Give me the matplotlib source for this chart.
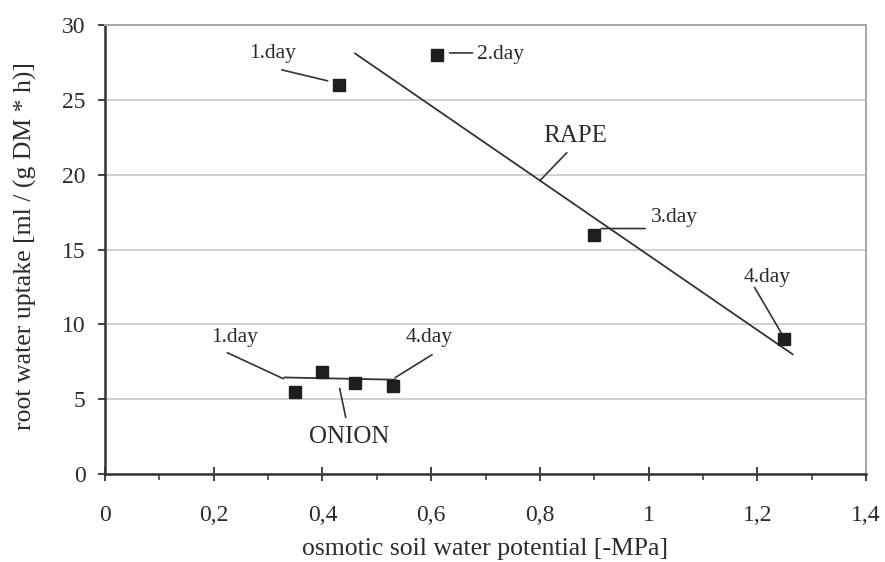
import matplotlib
matplotlib.use('Agg')
import matplotlib.pyplot as plt
from matplotlib.ticker import FixedLocator, MultipleLocator
from matplotlib.text import OffsetFrom

# values
rape_x = [0.43, 0.61, 0.90, 1.25]
rape_y = [26.0, 28.0, 16.0, 9.0]
onion_x = [0.35, 0.40, 0.46, 0.53]
onion_y = [5.5, 6.8, 6.1, 5.9]

rape_trend_x = [0.46, 1.265]
rape_trend_y = [28.1, 8.0]
onion_trend_x = [0.33, 0.535]
onion_trend_y = [6.45, 6.3]

x_ticks = [0, 0.2, 0.4, 0.6, 0.8, 1.0, 1.2, 1.4]
x_ticklabels = ['0', '0,2', '0,4', '0,6', '0,8', '1', '1,2', '1,4']
y_ticks = [0, 5, 10, 15, 20, 25, 30]

ink = '#2b2b2b'
font = 'Liberation Serif'

fig = plt.figure(figsize=(8.85, 5.62), dpi=100)
ax = fig.add_axes([105 / 885, 88 / 562, 761 / 885, 449 / 562])

ax.set_xlim(0, 1.4)
ax.set_ylim(0, 30)

# grid + frame (excel style)
ax.yaxis.grid(True, color='#c4c4c4', lw=1.1)
ax.set_axisbelow(True)
for s in ['top', 'right']:
    ax.spines[s].set_color('#a8a8a8')
    ax.spines[s].set_linewidth(1.4)
for s in ['left', 'bottom']:
    ax.spines[s].set_color('#333333')
    ax.spines[s].set_linewidth(1.8)

ax.xaxis.set_major_locator(FixedLocator(x_ticks))
ax.set_xticklabels(x_ticklabels)
ax.xaxis.set_minor_locator(MultipleLocator(0.1))
ax.set_yticks(y_ticks)

ax.tick_params(axis='x', which='major', direction='inout', length=10, width=1.3,
               color='#333333', pad=17, labelsize=17, labelcolor=ink)
ax.tick_params(axis='x', which='minor', direction='out', length=4.5, width=1.1,
               color='#333333')
ax.tick_params(axis='y', which='major', direction='out', length=5, width=1.3,
               color='#333333', pad=9, labelsize=17, labelcolor=ink)
for lab in ax.get_xticklabels() + ax.get_yticklabels():
    lab.set_family(font)

ax.set_xlabel('osmotic soil water potential [-MPa]', family=font, fontsize=18.5, color=ink, va='top')
ax.set_ylabel('root water uptake [ml / (g DM * h)]', family=font, fontsize=18.5, color=ink)
ax.xaxis.set_label_coords(0.5, -0.142)
ax.yaxis.set_label_coords(-0.09, 0.508)

# trend lines
ax.plot(rape_trend_x, rape_trend_y, color='#333333', lw=1.3, zorder=2)
ax.plot(onion_trend_x, onion_trend_y, color='#333333', lw=1.3, zorder=2)

# points
ax.plot(rape_x, rape_y, 's', ms=8.5, color='#1e1e1e', zorder=3)
ax.plot(onion_x, onion_y, 's', ms=8.5, color='#1e1e1e', zorder=3)


def callout(x, y, text, text_off, p1, p2, ha='center', size=15.5):
    # offsets in pixels from the anchor (x, y)
    ref = OffsetFrom(ax.transData, (x, y), unit='pixels')
    ax.annotate('', xy=p2, xycoords=ref, xytext=p1, textcoords=ref,
                arrowprops=dict(arrowstyle='-', color='#333333', lw=1.2,
                                shrinkA=0, shrinkB=0))
    ax.annotate(text, xy=text_off, xycoords=ref, ha=ha, va='center',
                family=font, fontsize=size, color=ink)


# rape days
callout(rape_x[0], rape_y[0], '1.day', (-66, 31), (-57, 15), (-11, 4))
callout(rape_x[1], rape_y[1], '2.day', (40, 0), (13, 2), (36, 2), ha='left')
callout(rape_x[2], rape_y[2], '3.day', (57, 17), (7, 6), (51, 6), ha='left')
callout(rape_x[3], rape_y[3], '4.day', (-17, 62), (-30, 52), (-3, 6))
# onion days
callout(onion_x[0], onion_y[0], '1.day', (-61, 54), (-68, 39), (-12, 13))
callout(onion_x[3], onion_y[3], '4.day', (36, 48), (39, 31), (2, 8))
# series names
callout(0.8, 19.6, 'RAPE', (35, 45), (27, 28), (0, 0), size=18)
callout(0.43, 6.38, 'ONION', (10, -58), (1, -10), (7, -39), size=18)

fig.savefig('out.png', dpi=100)
